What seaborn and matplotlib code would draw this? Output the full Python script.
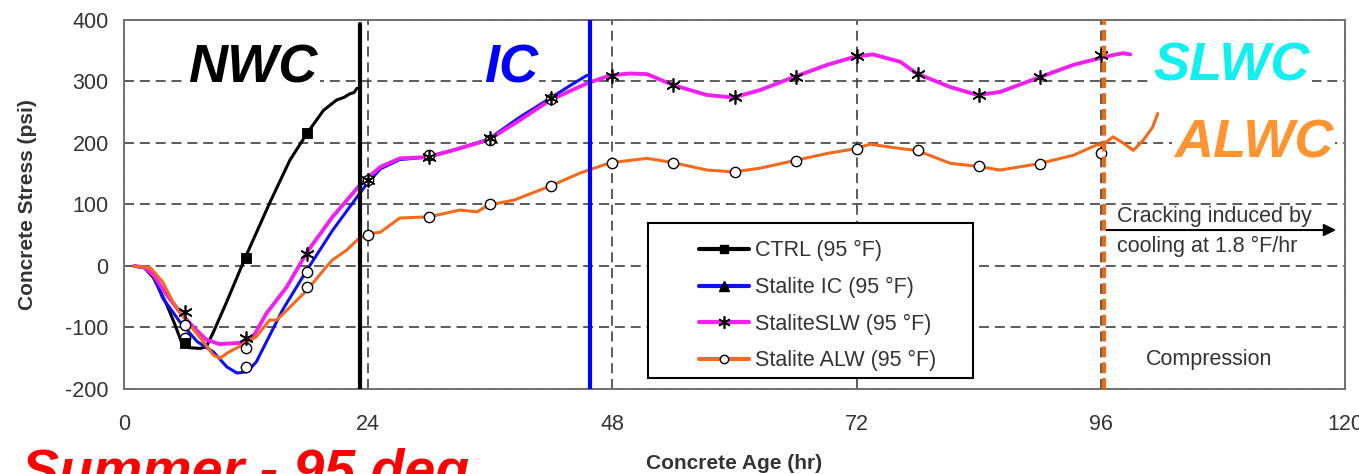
import matplotlib
matplotlib.use("Agg")
import matplotlib.pyplot as plt
from matplotlib.lines import Line2D
from matplotlib.patches import Rectangle
import seaborn as sns
import pandas as pd

# ---------------- data ----------------
ctrl_h = [1, 2, 2.9, 4.2, 5.0, 5.7, 6.5, 7.5, 8.1, 8.8, 10.1, 11.9, 14.3, 16.3, 18, 19.6,
          20.9, 21.6, 22.2, 22.6, 22.9]
ctrl_v = [0, -3, -19, -63, -95, -126, -133, -134, -131, -107, -58, 13, 102, 172, 216, 253,
          270, 274, 280, 282, 289]

ic_h = [1, 2, 2.9, 3.8, 5.5, 7.2, 8.8, 10.1, 11.1, 12.1, 13, 15.6, 18, 20.5, 23.2, 23.9,
        25.2, 27.1, 29.8, 32.3, 35.8, 38.9, 41.9, 44, 45.5]
ic_v = [0, -3, -15, -52, -91, -123, -140, -164, -174, -172, -156, -71, -6, 58, 119, 134,
        158, 173, 177, 188, 206, 242, 273, 295, 310]

slw_h = [1, 2, 2.9, 4.2, 5.5, 6.8, 8.1, 9.4, 11.4, 12.7, 14, 16, 18, 20.5, 23.2, 23.9, 25.2,
         27.1, 29.8, 32.3, 35.8, 38.9, 41.9, 45.5, 47.8, 49.7, 51.4, 54, 57.3, 59.9, 62.5,
         65.8, 69.1, 72, 73.6, 76.3, 77.9, 81.2, 83.9, 86.1, 90, 93.3, 95.9, 97.2, 98.2, 98.9]
slw_v = [0, -2, -15, -47, -75, -99, -120, -127, -125, -115, -77, -34, 23, 80, 132, 143, 161,
         175, 177, 188, 205, 237, 270, 297, 310, 313, 312, 294, 278, 274, 286,
         307, 327, 341, 344, 332, 313, 291, 278, 283, 307, 327, 338, 343, 346, 344]

alw_h = [1, 2.6, 3.8, 4.8, 6.2, 7.5, 8.8, 9.4, 10.4, 11.7, 13, 14.3, 15, 16.3, 18, 19.9, 20.5,
         21.9, 22.9, 23.9, 25.2, 27.1, 30, 33, 34.7, 35.8, 38.3, 41.9, 44.8, 47.8, 51.4, 54,
         57.3, 59.9, 62.5, 65.8, 69.1, 72, 73.3, 76.3, 77.9, 81.2, 83.9, 86.1, 89.8, 93.3,
         95.6, 96.2, 97.2, 98.2, 99.2, 100.2, 101.1, 101.6]
alw_v = [0, -3, -26, -58, -91, -117, -145, -150, -139, -128, -115, -88, -88, -67, -39, -1, 10,
         26, 42, 52, 55, 78, 80, 91, 88, 99, 107, 130, 151, 168, 175, 168,
         156, 153, 159, 171, 183, 191, 198, 191, 188, 167, 162, 156, 166, 180,
         197, 197, 210, 200, 188, 205, 226, 248]

# marker points
ctrl_mh = [6, 12, 18]
ctrl_mv = [-126, 13, 216]
ic_mh = [6, 12, 18, 24, 30, 36, 42]
ic_mv = [-117, -165, -10, 140, 180, 205, 272]
slw_mh = [6, 12, 18, 24, 30, 36, 42, 48, 54, 60, 66, 72, 78, 84, 90, 96]
slw_mv = [-75, -117, 20, 140, 177, 208, 273, 309, 294, 274, 308, 341, 313, 278, 307, 343]
alw_mh = [6, 12, 18, 24, 30, 36, 42, 48, 54, 60, 66, 72, 78, 84, 90, 96]
alw_mv = [-96, -133, -34, 50, 80, 100, 130, 168, 168, 153, 171, 191, 188, 163, 166, 184]

labels = ["CTRL (95 °F)", "Stalite IC (95 °F)", "StaliteSLW (95 °F)", "Stalite ALW (95 °F)"]
x_ticks = [0, 24, 48, 72, 96, 120]
y_ticks = [-200, -100, 0, 100, 200, 300, 400]

# ---------------- styling ----------------
sns.set_style("white")
plt.rcParams["font.family"] = ["Liberation Sans", "DejaVu Sans"]
plt.rcParams["axes.unicode_minus"] = False

C_BLACK = "#000000"
C_BLUE = "#1010F0"
C_MAG = "#F020F0"
C_ORG = "#F26A1B"
C_ALWC = "#FF9430"
C_SLWC = "#10F0F0"
TXT = "#333333"

fig = plt.figure(figsize=(13.59, 4.74), dpi=100)
ax = fig.add_axes([124 / 1359, 1 - 389 / 474, 1221 / 1359, 369 / 474])

series = [(ctrl_h, ctrl_v, C_BLACK, 2.2), (ic_h, ic_v, C_BLUE, 2.2),
          (slw_h, slw_v, C_MAG, 2.8), (alw_h, alw_v, C_ORG, 2.2)]
for h, v, c, lw in series:
    df = pd.DataFrame({"h": h, "v": v})
    sns.lineplot(data=df, x="h", y="v", ax=ax, color=c, lw=lw, sort=False,
                 estimator=None, zorder=3)

# markers
sns.scatterplot(x=ic_mh, y=ic_mv, ax=ax, marker="o", s=55, color="white",
                edgecolor="black", linewidth=1.0, zorder=4)
sns.scatterplot(x=alw_mh, y=alw_mv, ax=ax, marker="o", s=55, color="white",
                edgecolor="black", linewidth=1.0, zorder=4)
sns.scatterplot(x=slw_mh, y=slw_mv, ax=ax, marker=(6, 2, 0), s=90, color="black",
                linewidth=1.2, zorder=5)
sns.scatterplot(x=ctrl_mh, y=ctrl_mv, ax=ax, marker="s", s=60, color="black",
                edgecolor="black", zorder=5)

# vertical markers
ax.axvline(23.2, ymin=0, ymax=0.99, color="black", lw=3.0, zorder=6)
ax.axvline(45.8, color="#0000FF", lw=3.0, zorder=6)
ax.axvline(96.3, color="#EE6A10", lw=3.0, ls=(0, (2.6, 1.2)), zorder=6)

# axes
ax.set_xlim(0, 120)
ax.set_ylim(-200, 400)
ax.set_xticks(x_ticks)
ax.set_yticks(y_ticks)
ax.grid(True, color="#404040", lw=1.2, ls=(0, (6, 3.5)), zorder=1)
for s in ax.spines.values():
    s.set_color("#707070")
    s.set_linewidth(1.4)
ax.tick_params(axis="both", which="major", direction="out", length=6, width=1.2,
               color="#707070", labelsize=15.5, labelcolor=TXT)
ax.tick_params(axis="x", pad=12)
ax.tick_params(axis="y", pad=5)
ax.set_xlabel("Concrete Age (hr)", fontsize=15, fontweight="bold", color=TXT, labelpad=14)
ax.set_ylabel("Concrete Stress (psi)", fontsize=15, fontweight="bold", color=TXT, labelpad=20)

# legend
ax.add_patch(Rectangle((0.4292, 0.0298), 0.2661, 0.4201, transform=ax.transAxes,
                       facecolor="white", edgecolor="black", lw=1.5, zorder=7))
handles = [
    Line2D([], [], color=C_BLACK, lw=3, marker="s", ms=6, mfc="black", mec="black"),
    Line2D([], [], color=C_BLUE, lw=3, marker="^", ms=7, mfc="black", mec="black"),
    Line2D([], [], color=C_MAG, lw=3, marker=(6, 2, 0), ms=9, mfc="black", mec="black", mew=1.2),
    Line2D([], [], color=C_ORG, lw=3, marker="o", ms=6, mfc="white", mec="black"),
]
leg = ax.legend(handles, labels, loc="upper left", bbox_to_anchor=(0.462, 0.432),
                frameon=False, fontsize=15.5, handlelength=2.35, handletextpad=0.25,
                labelspacing=0.72, borderpad=0.0)
leg.set_zorder(8)
for t in leg.get_texts():
    t.set_color(TXT)

# region labels
big = dict(fontsize=39, fontweight="bold", fontstyle="italic", ha="center", va="baseline",
           zorder=9)
ax.text(12.7, 299, "NWC", color="black",
        bbox=dict(facecolor="white", edgecolor="none", pad=1), **big)
ax.text(38.0, 299, "IC", color="#0000FF",
        bbox=dict(facecolor="white", edgecolor="none", pad=1), **big)
ax.text(108.9, 302, "SLWC", color=C_SLWC,
        bbox=dict(facecolor="white", edgecolor="none", pad=1), **big)
ax.text(111.0, 177, "ALWC", color=C_ALWC,
        bbox=dict(facecolor="white", edgecolor="none", pad=1), **big)

# annotations
ax.text(97.6, 71.5, "Cracking induced by", fontsize=15.5, color=TXT, ha="left",
        va="baseline", zorder=9)
ax.text(97.6, 23, "cooling at 1.8 °F/hr", fontsize=15.5, color=TXT, ha="left",
        va="baseline", zorder=9)
ax.annotate("", xy=(119.4, 58.5), xytext=(96.3, 58.5),
            arrowprops=dict(arrowstyle="-|>", color="black", lw=1.5, mutation_scale=18),
            zorder=9)
ax.text(106.6, -161, "Compression", fontsize=15.5, color=TXT, ha="center",
        va="baseline", zorder=9)

fig.text(22 / 1359, -0.03, "Summer - 95 deg", fontsize=40, fontweight="bold",
         fontstyle="italic", color="#FF0000", ha="left", va="baseline")

fig.savefig("out.png", dpi=100)
